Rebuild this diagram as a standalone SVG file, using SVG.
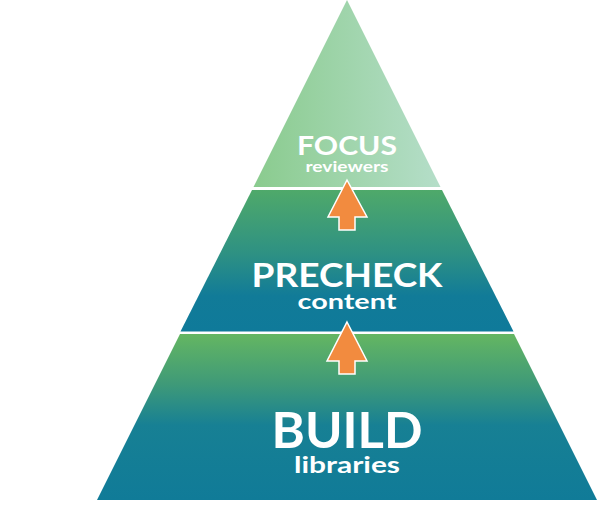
<svg xmlns="http://www.w3.org/2000/svg" width="598" height="505" viewBox="0 0 598 505">
  <style>
    .lbl { font-family: "Lato", "Open Sans", "Liberation Sans", sans-serif; fill: #ffffff; text-anchor: middle; font-weight: 700; }
    .arrow { fill: #f28b3f; stroke: #ffffff; stroke-width: 1.5; stroke-linejoin: miter; }
  </style>
  <defs>
    <linearGradient id="gTop" x1="0" y1="0" x2="1" y2="0">
      <stop offset="0" stop-color="#8acb8e"/>
      <stop offset="1" stop-color="#b5dec9"/>
    </linearGradient>
    <linearGradient id="gMid" x1="0" y1="0" x2="0" y2="1">
      <stop offset="0" stop-color="#4fa96a"/>
      <stop offset="0.45" stop-color="#2e9183"/>
      <stop offset="0.75" stop-color="#117b98"/>
      <stop offset="1" stop-color="#0f7a9a"/>
    </linearGradient>
    <linearGradient id="gBot" x1="0" y1="0" x2="0" y2="1">
      <stop offset="0" stop-color="#64b662"/>
      <stop offset="0.3" stop-color="#3f9a78"/>
      <stop offset="0.55" stop-color="#178094"/>
      <stop offset="1" stop-color="#107b98"/>
    </linearGradient>
  </defs>
  <g id="tier-focus">
    <polygon points="347,0 440.5,187 253.5,187" fill="url(#gTop)"/>
    <text class="lbl" x="347" y="155" font-size="27" textLength="100" lengthAdjust="spacingAndGlyphs">FOCUS</text>
    <text class="lbl" x="347" y="172" font-size="15" textLength="83" lengthAdjust="spacingAndGlyphs">reviewers</text>
  </g>
  <g id="tier-precheck">
    <polygon points="252,190 442,190 513.5,331.5 180.5,331.5" fill="url(#gMid)"/>
    <text class="lbl" x="347" y="287" font-size="33" textLength="191" lengthAdjust="spacingAndGlyphs">PRECHECK</text>
    <text class="lbl" x="347" y="309" font-size="21" textLength="99" lengthAdjust="spacingAndGlyphs">content</text>
  </g>
  <g id="tier-build">
    <polygon points="180,334 514,334 597,500 97,500" fill="url(#gBot)"/>
    <text class="lbl" x="347" y="448" font-size="49" textLength="151" lengthAdjust="spacingAndGlyphs">BUILD</text>
    <text class="lbl" x="347" y="473" font-size="23" textLength="106" lengthAdjust="spacingAndGlyphs">libraries</text>
  </g>
  <g id="connectors">
    <polygon class="arrow" points="347,180 367,217 355,217 355,230 339,230 339,217 328,217"/>
    <polygon class="arrow" points="347,322 367,361 355,361 355,374 339,374 339,361 327,361"/>
  </g>
</svg>
